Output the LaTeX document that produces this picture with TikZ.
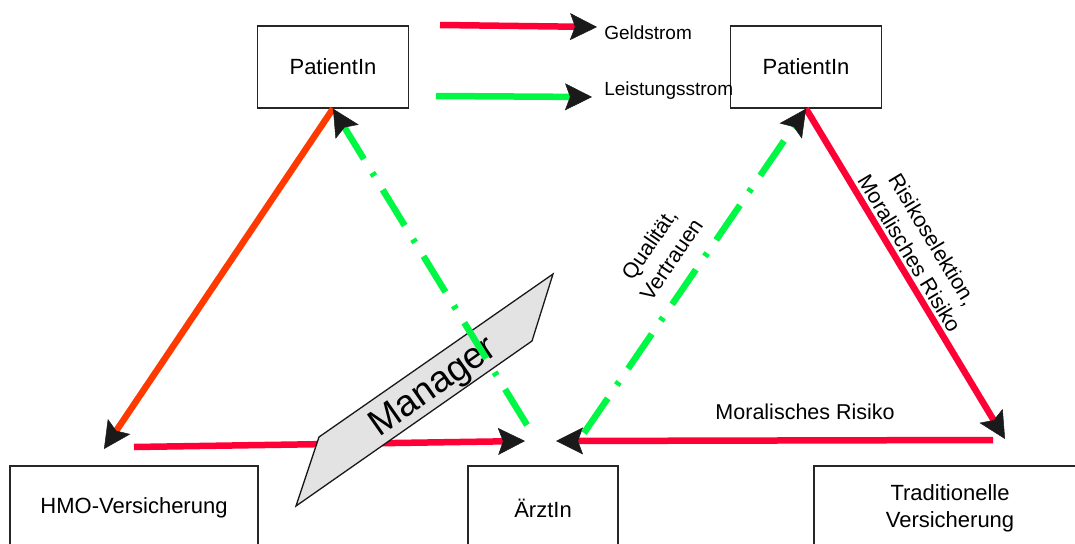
\documentclass[tikz,border=0pt]{standalone}
\usepackage{fontspec}
\setmainfont{Liberation Sans}
\usepackage{tikz}
\usetikzlibrary{arrows.meta}
\definecolor{geldred}{HTML}{FF0036}
\definecolor{hmored}{HTML}{FF3A00}
\definecolor{leistgreen}{HTML}{00F844}
\definecolor{tipgray}{HTML}{1A1A1A}

\begin{document}
\begin{tikzpicture}[x=1pt, y=-1pt, line width=6.5pt,
        -{Stealth[length=27pt, width=27pt, inset=5pt, line width=0.5pt, color=tipgray]},
        every node/.append style={font=\fontsize{22}{27}\selectfont, inner sep=0pt, text=black}]
      \tikzstyle{box} = [draw=black!85, line width=1.4pt, minimum width=151pt, minimum height=82pt]
      \tikzstyle{legend} = [font=\fontsize{19}{23}\selectfont, anchor=west]
      \tikzstyle{note} = [font=\fontsize{21.5}{27}\selectfont, align=center]
      \tikzstyle{geldstrom} = [geldred]
      \tikzstyle{leistungsstrom} = [leistgreen, dash pattern=on 42pt off 16pt on 4pt off 16pt]
      \useasboundingbox (0,0) rectangle (1075,543);
      \node (pl) [box] at (333,67) {PatientIn};
      \node (pr) [box] at (806,67) {PatientIn};
      \node (hmo) [box, minimum width=248pt, minimum height=84pt] at (134,508) {HMO-Versicherung};
      \node (arzt) [box, minimum width=150pt, minimum height=84pt] at (543,508) {ÄrztIn};
      \node (trad) [box, minimum width=272pt, minimum height=84pt, align=center] at (950,508) {Traditionelle\\Versicherung};
      \node (geld) [legend] at (601,33) {Geldstrom};
      \node (leist) [legend] at (601,91) {Leistungsstrom};
      \coordinate (geld-from) at (440,25);
      \coordinate (geld-to) at (597,27);
      \coordinate (leist-from) at (436,96);
      \coordinate (leist-to) at (592,97);
      \coordinate (hmo-in) at (104,449);
      \coordinate (hmo-out) at (134,447);
      \coordinate (arzt-l) at (525,441);
      \coordinate (arzt-r) at (556,441);
      \coordinate (arzt-gl) at (527,425);
      \coordinate (arzt-gr) at (584,433);
      \coordinate (trad-in) at (1005,439);
      \coordinate (trad-out) at (993,440);
      \draw[geldstrom] (geld-from) -- (geld-to);
      \draw[leistgreen] (leist-from) -- (leist-to);
      \draw[hmored] (pl.south) -- (hmo-in);
      \draw[geldstrom] (hmo-out) -- (arzt-l);
      \draw[geldstrom] (pr.south) -- (trad-in)
        node [note, sloped, pos=0.46, above=3pt] {Risikoselektion,\\Moralisches Risiko};
      \draw[geldstrom] (trad-out) -- (arzt-r)
        node [note, pos=0.43, yshift=29pt] {Moralisches Risiko};
      \filldraw[-, fill=black!11, draw=black!90, line width=1.3pt]
        (553,274) -- (532,341) -- (296,506) -- (319,437) -- cycle;
      \node (manager) [rotate=35, font=\fontsize{37}{40}\selectfont] at (434,388) {Manager};
      \draw[leistungsstrom] (arzt-gl) -- (pl.south);
      \draw[leistungsstrom] (arzt-gr) -- (pr.south)
        node [note, sloped, pos=0.49, above=15pt] {Qualität,\\Vertrauen};
    \end{tikzpicture}
\end{document}
